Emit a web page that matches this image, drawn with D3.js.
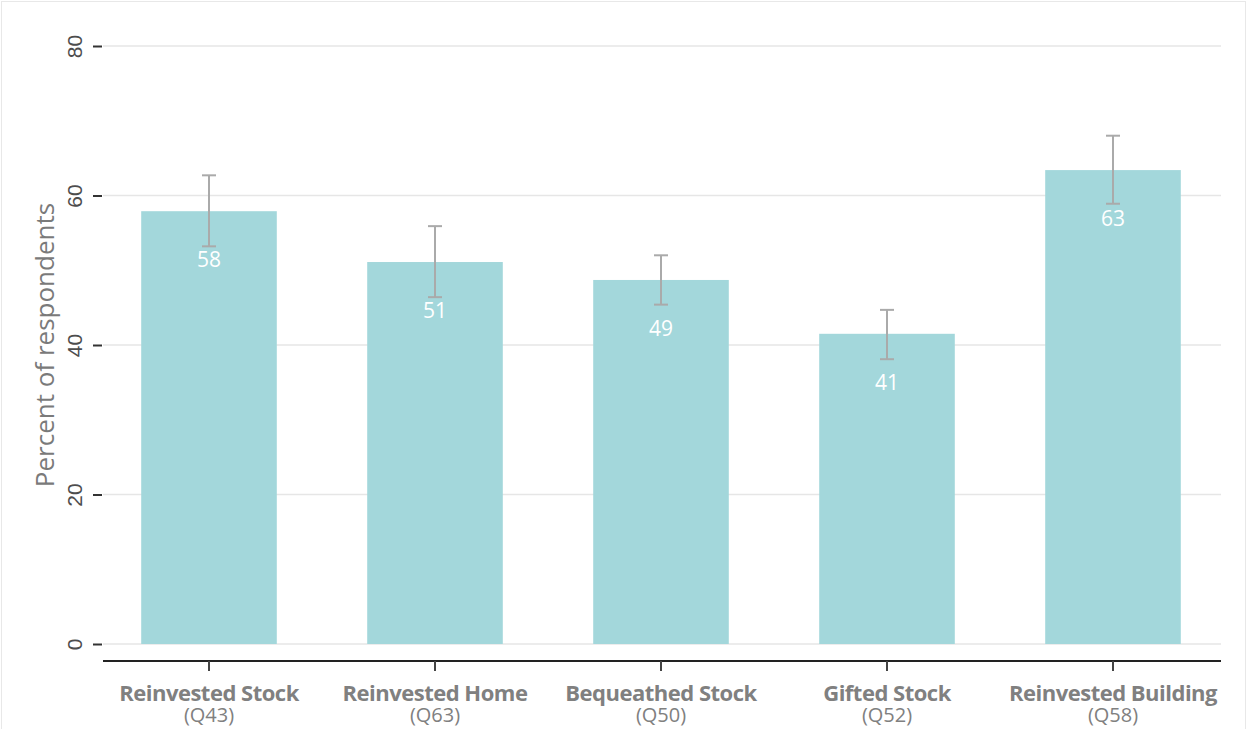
<!DOCTYPE html>
<html>
<head>
<meta charset="utf-8">
<script src="https://cdn.jsdelivr.net/npm/d3@7"></script>
<style>
  html, body { margin: 0; padding: 0; background: #fff; }
  svg { display: block; font-family: "Open Sans", "Noto Sans", sans-serif; }
</style>
</head>
<body>
<svg id="chart" width="1247" height="729"></svg>
<script>
const categories = ["Reinvested Stock", "Reinvested Home", "Bequeathed Stock", "Gifted Stock", "Reinvested Building"];
const questions = ["(Q43)", "(Q63)", "(Q50)", "(Q52)", "(Q58)"];
const values = [57.9, 51.1, 48.7, 41.5, 63.4];
const valueLabels = ["58", "51", "49", "41", "63"];
const errLow = [53.2, 46.4, 45.4, 38.1, 58.9];
const errHigh = [62.7, 55.9, 52.0, 44.7, 68.0];
const yTicks = [0, 20, 40, 60, 80];
const yTitle = "Percent of respondents";

const svg = d3.select("#chart");

// outer border
svg.append("rect").attr("x", 1.5).attr("y", 1.5).attr("width", 1244).attr("height", 740)
  .attr("fill", "none").attr("stroke", "#e8e8e8").attr("stroke-width", 1);

const y = d3.scaleLinear().domain([0, 80]).range([644, 46]);
const x = d3.scaleBand().domain(categories).range([96, 1226]).paddingInner(0.4).paddingOuter(0.2);

const plotLeft = 103, plotRight = 1221;

// gridlines
svg.append("g").selectAll("line").data(yTicks).join("line")
  .attr("x1", plotLeft).attr("x2", plotRight)
  .attr("y1", d => y(d)).attr("y2", d => y(d))
  .attr("stroke", "#e6e6e6").attr("stroke-width", 1.5);

// y axis ticks + labels
const yAxis = svg.append("g").attr("transform", `translate(${plotLeft},0)`)
  .call(d3.axisLeft(y).tickValues(yTicks).tickSize(10).tickPadding(0).tickFormat(d3.format("d")));
yAxis.select(".domain").remove();
yAxis.selectAll(".tick line").attr("stroke", "#333").attr("stroke-width", 2).attr("x2", -1).attr("x1", -10);
yAxis.selectAll(".tick text")
  .attr("transform", "rotate(-90)")
  .attr("x", 0).attr("y", -21).attr("dy", 0)
  .attr("text-anchor", "middle")
  .attr("fill", "#4d4d4d").attr("font-size", 21);

// y title
svg.append("text")
  .attr("transform", `translate(54,${(y(0) + y(80)) / 2}) rotate(-90)`)
  .attr("text-anchor", "middle")
  .attr("fill", "#7a7a7a").attr("font-size", 26)
  .text(yTitle);

// bars
svg.append("g").selectAll("rect").data(categories).join("rect")
  .attr("x", d => x(d)).attr("width", x.bandwidth())
  .attr("y", (d, i) => y(values[i])).attr("height", (d, i) => y(0) - y(values[i]))
  .attr("fill", "#a3d7db");

// error bars
const eb = svg.append("g").attr("stroke", "#aaaaaa").attr("stroke-width", 2).attr("fill", "none");
categories.forEach((c, i) => {
  const cx = x(c) + x.bandwidth() / 2;
  eb.append("line").attr("x1", cx).attr("x2", cx).attr("y1", y(errLow[i])).attr("y2", y(errHigh[i]));
  eb.append("line").attr("x1", cx - 7).attr("x2", cx + 7).attr("y1", y(errLow[i])).attr("y2", y(errLow[i]));
  eb.append("line").attr("x1", cx - 7).attr("x2", cx + 7).attr("y1", y(errHigh[i])).attr("y2", y(errHigh[i]));
});

// value labels
svg.append("g").selectAll("text").data(categories).join("text")
  .attr("x", d => x(d) + x.bandwidth() / 2)
  .attr("y", (d, i) => y(values[i]) + 56)
  .attr("text-anchor", "middle")
  .attr("fill", "#ffffff").attr("font-size", 21)
  .text((d, i) => valueLabels[i]);

// x axis
const xAxis = svg.append("g").attr("transform", "translate(0,661)")
  .call(d3.axisBottom(x).tickSize(10).tickFormat(""));
xAxis.select(".domain").attr("d", `M${plotLeft},0H${plotRight}`).attr("stroke", "#222").attr("stroke-width", 2);
xAxis.selectAll(".tick line").attr("stroke", "#444").attr("stroke-width", 2);

// two-line category labels (one text element each)
const xl = svg.append("g");
categories.forEach((c, i) => {
  const cx = x(c) + x.bandwidth() / 2;
  const t = xl.append("text").attr("x", cx).attr("y", 701).attr("text-anchor", "middle").attr("fill", "#808080");
  t.append("tspan").attr("x", cx).attr("font-size", 22).attr("font-weight", "bold")
    .attr("letter-spacing", "-0.5px").text(c);
  t.append("tspan").attr("x", cx).attr("dy", 21).attr("font-size", 20).text(questions[i]);
});
</script>
</body>
</html>
